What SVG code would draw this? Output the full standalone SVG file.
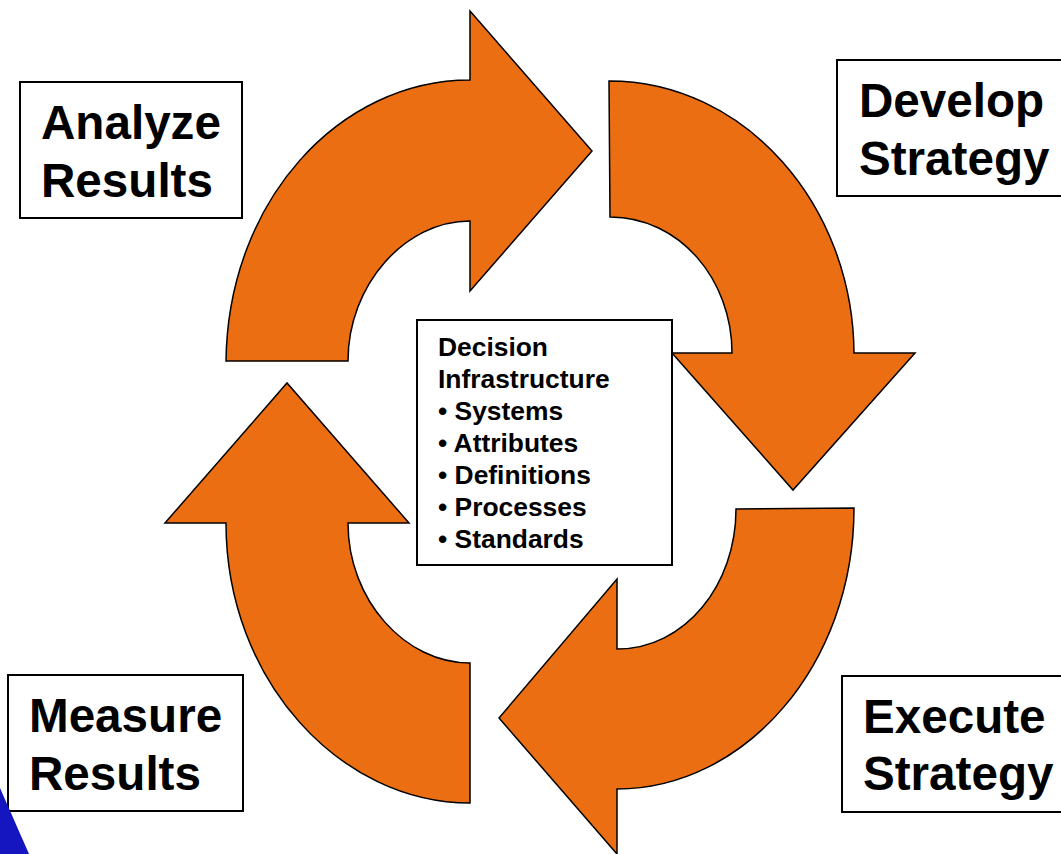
<svg xmlns="http://www.w3.org/2000/svg" width="1061" height="854" viewBox="0 0 1061 854">
<style>
.arrow{fill:#ec6e13;stroke:#000;stroke-width:1.5;stroke-linejoin:miter}
.box{fill:#fff;stroke:#000;stroke-width:2}
.big{font:bold 47.6px "Liberation Sans",Arial,sans-serif;fill:#000}
.small{font:bold 26.4px "Liberation Sans",Arial,sans-serif;fill:#000}
</style>
<rect width="1061" height="854" fill="#fff"/>
<g id="connectors">
<path class="arrow" d="M226 361C228 200 340 80 470 80V11L592 151L470 291V221C405 221 348 285 348 361Z"/>
<path class="arrow" d="M609 81C745 81 853 205 854 353H915L793 490L672 353H732C732 280 680 217 610 217Z"/>
<path class="arrow" d="M854 508C854 665 745 789 617 789V854L499 718L617 579V649C685 649 736 585 736 509Z"/>
<path class="arrow" d="M470 803C340 803 226 680 226 523H165L287 383L409 523H348C348 600 405 663 470 663Z"/>
</g>
<g id="analyze"><rect class="box" x="20" y="82" width="222" height="136"/><text class="big" x="41" y="139">Analyze</text><text class="big" x="41" y="197">Results</text></g>
<g id="develop"><rect class="box" x="837" y="60" width="240" height="136"/><text class="big" x="859" y="117">Develop</text><text class="big" x="859" y="175">Strategy</text></g>
<g id="execute"><rect class="box" x="842" y="676" width="240" height="136"/><text class="big" x="863" y="733">Execute</text><text class="big" x="863" y="790">Strategy</text></g>
<g id="measure"><rect class="box" x="8" y="675" width="235" height="136"/><text class="big" x="29" y="732">Measure</text><text class="big" x="29" y="790">Results</text></g>
<g id="center"><rect class="box" x="417" y="320" width="255" height="245"/>
<text class="small" x="438" y="356">Decision</text><text class="small" x="438" y="388">Infrastructure</text><text class="small" x="438" y="420">• Systems</text><text class="small" x="438" y="452">• Attributes</text><text class="small" x="438" y="484">• Definitions</text><text class="small" x="438" y="516">• Processes</text><text class="small" x="438" y="548">• Standards</text></g>
<path d="M0 788L29 854H0Z" fill="#1616c0"/>
</svg>
